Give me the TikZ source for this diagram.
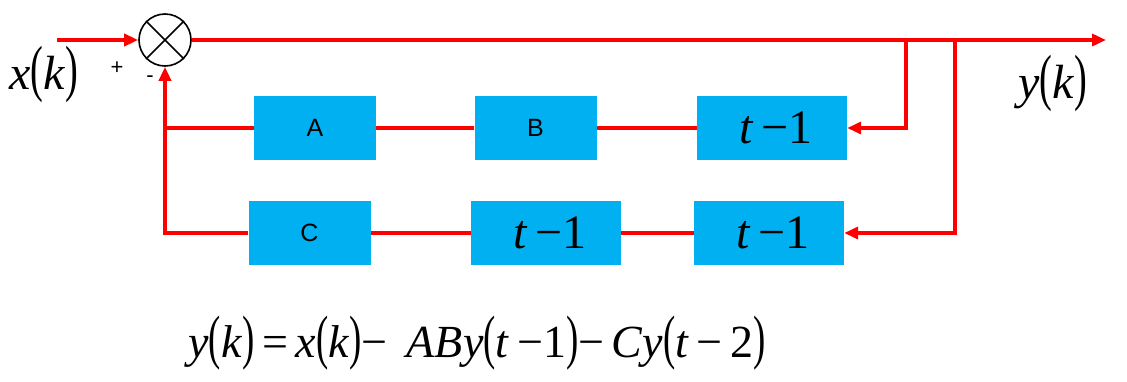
\documentclass[tikz,border=0pt]{standalone}
\usepackage{graphicx}
\usepackage{fontspec}
\setmainfont{Liberation Serif}
\newfontfamily\boxsans{Liberation Sans}
\usetikzlibrary{arrows.meta}
\definecolor{boxblue}{HTML}{00B0F0}
\definecolor{sigred}{HTML}{FF0000}
\newcommand{\lp}{\scalebox{0.8}[1.3]{(}}
\newcommand{\rp}{\scalebox{0.8}[1.3]{)}}
\begin{document}
\begin{tikzpicture}[x=1pt,y=-1pt,
  blk/.style={fill=boxblue, minimum width=122pt, minimum height=64pt, inner sep=0pt},
  dly/.style={fill=boxblue, minimum width=150pt, minimum height=64pt, inner sep=0pt,
    font=\fontsize{48}{48}\selectfont},
  lbl/.style={font=\boxsans\fontsize{25}{25}\selectfont},
  big/.style={font=\fontsize{48}{48}\selectfont, inner sep=0pt},
  sig/.style={draw=sigred, line width=3.5pt},
  arr/.style={sig, -{Triangle[length=14pt,width=12pt]}}]
\useasboundingbox (0,0) rectangle (1127,381);
% summing junction
\node[circle, draw, line width=1.6pt, minimum size=52pt, inner sep=0pt] (sum) at (165,40) {};
\draw[line width=1.6pt] (sum.north west) -- (sum.south east);
\draw[line width=1.6pt] (sum.north east) -- (sum.south west);
% blocks
\node[blk, lbl] (A) at (315,128) {A};
\node[blk, lbl] (B) at (535.5,128) {B};
\node[dly] (D1) at (772,128) {\hspace{8pt}\textit{t}\hspace{0.15em}−1};
\node[blk, lbl] (C) at (309.5,233) {C};
\node[dly] (D2) at (546,233) {\hspace{8pt}\textit{t}\hspace{0.15em}−1};
\node[dly] (D3) at (769,233) {\hspace{8pt}\textit{t}\hspace{0.15em}−1};
% coordinates
\coordinate (in) at (57,40);
\coordinate (out) at (1106,40);
\coordinate (b1) at (906,40);
\coordinate (b2) at (955,40);
% signals
\draw[arr] (in) -- (sum.west);
\draw[arr] (sum.east) -- (out);
\draw[arr] (b1) |- (D1.east);
\draw[arr] (b2) |- (D3.east);
\draw[sig] (D1.west) -- (B.east);
\draw[sig] (B.west) -- (A.east);
\draw[sig] (D3.west) -- (D2.east);
\draw[sig] (D2.west) -- (C.east);
\draw[arr] (C.west) -| (sum.south);
\draw[sig] (A.west) -- (A.west -| sum.south);
% labels
\node[big, anchor=base west] (xk) at (9,89) {\textit{x}\lp\textit{k}\rp};
\node[big, anchor=base west] (yk) at (1018,98) {\textit{y}\lp\textit{k}\rp};
\node[font=\boxsans\fontsize{22}{22}\selectfont] (plus) at (117,68) {+};
\node[font=\boxsans\fontsize{22}{22}\selectfont] (minus) at (150,79) {-};
\node[big, font=\fontsize{46}{46}\selectfont, anchor=base] (eq) at (477,357) {\textit{y}\lp\textit{k}\rp\,=\,\textit{x}\lp\textit{k}\rp−\, \textit{ABy}\lp\textit{t}\,−1\rp−\,\textit{Cy}\lp\textit{t}\,−\,2\rp};
\end{tikzpicture}
\end{document}
